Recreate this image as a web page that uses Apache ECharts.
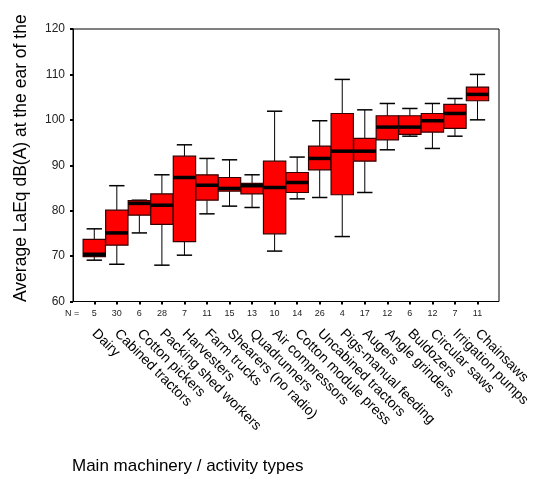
<!DOCTYPE html>
<html>
<head>
<meta charset="utf-8">
<script src="https://cdn.jsdelivr.net/npm/echarts@6/dist/echarts.min.js"></script>
<style>
html,body{margin:0;padding:0;background:#fff;}
#chart{width:533px;height:480px;}
</style>
</head>
<body>
<div id="chart"></div>
<script>
var categories = ['Dairy','Cabined tractors','Cotton pickers','Packing shed workers','Harvesters','Farm trucks','Shearers (no radio)','Quadrunners','Air compressors','Cotton module press','Uncabined tractors','Pigs-manual feeding','Augers','Angle grinders','Buldozers','Circular saws','Irrigation pumps','Chainsaws'];
var nCounts = [5,30,6,28,7,11,15,13,10,14,26,4,17,12,6,12,7,11];
var mins    = [69.1, 68.2, 75.1, 68.0, 70.2, 79.3, 81.0, 80.7, 71.1, 82.6, 82.9, 74.3, 84.0, 93.4, 96.4, 93.7, 96.4, 100.0];
var q1s     = [69.9, 72.4, 79.0, 77.0, 73.2, 82.3, 84.3, 83.7, 74.9, 84.0, 89.0, 83.5, 90.9, 95.6, 96.8, 97.3, 98.1, 104.2];
var medians = [70.4, 75.1, 81.6, 81.2, 87.3, 85.6, 84.9, 85.5, 85.1, 86.2, 91.5, 93.1, 93.1, 98.4, 98.4, 99.8, 101.4, 105.6];
var q3s     = [73.7, 80.1, 82.2, 83.7, 92.0, 87.9, 87.3, 86.0, 90.9, 88.4, 94.2, 101.4, 95.9, 100.9, 100.9, 101.4, 103.4, 107.2];
var maxs    = [76.0, 85.5, 82.3, 87.9, 94.5, 91.5, 91.2, 87.9, 101.9, 91.8, 99.8, 108.9, 102.2, 103.6, 102.5, 103.6, 104.7, 110.0];
var yTicks = [60, 70, 80, 90, 100, 110, 120];
var yTitle = 'Average LaEq dB(A) at the ear of the';
var xTitle = 'Main machinery / activity types';
var nLabel = 'N =';

var FONT = "'Liberation Sans', Arial, sans-serif";
var boxData = categories.map(function (c, i) {
  return [i, mins[i], q1s[i], medians[i], q3s[i], maxs[i]];
});

var chart = echarts.init(document.getElementById('chart'), null, {renderer: 'canvas'});
chart.setOption({
  animation: false,
  backgroundColor: '#fff',
  textStyle: {fontFamily: FONT},
  grid: [
    {left: 73, right: 34, top: 29, height: 272.5, show: true, borderColor: '#000', borderWidth: 1, backgroundColor: 'transparent'},
    {left: 83, right: 44, top: 29, height: 272.5}
  ],
  xAxis: [
    {gridIndex: 0, type: 'value', show: false, min: 0, max: 1},
    {gridIndex: 1, type: 'category', data: categories, boundaryGap: true, position: 'bottom',
      axisLine: {show: false},
      axisTick: {show: true, alignWithLabel: true, length: 3, lineStyle: {color: '#000', width: 2}},
      axisLabel: {interval: 0, fontSize: 9, color: '#222', margin: 8, fontFamily: FONT,
        formatter: function (v, i) { return String(nCounts[i]); }},
      splitLine: {show: false}
    },
    {gridIndex: 1, type: 'category', data: categories, boundaryGap: true, position: 'bottom',
      axisLine: {show: false}, axisTick: {show: false},
      axisLabel: {interval: 0, rotate: -45, fontSize: 14, color: '#000', margin: 30, fontFamily: FONT, hideOverlap: false},
      splitLine: {show: false}
    }
  ],
  yAxis: [
    {gridIndex: 0, type: 'value', min: yTicks[0], max: yTicks[yTicks.length - 1], interval: 10,
      axisLine: {show: true, lineStyle: {color: '#000', width: 1}},
      axisTick: {show: true, length: 3, lineStyle: {color: '#000', width: 2}},
      axisLabel: {fontSize: 12, color: '#222', margin: 8, fontFamily: FONT},
      splitLine: {show: false}
    },
    {gridIndex: 1, type: 'value', min: yTicks[0], max: yTicks[yTicks.length - 1], show: false, splitLine: {show: false}}
  ],
  graphic: [
    {type: 'text', x: 21, y: 302, rotation: Math.PI / 2,
      style: {text: yTitle, font: '17.5px ' + FONT, fill: '#000', textAlign: 'left', textVerticalAlign: 'middle'}},
    {type: 'text', x: 65, y: 314,
      style: {text: nLabel, font: '9px ' + FONT, fill: '#222', textAlign: 'left', textVerticalAlign: 'middle'}},
    {type: 'text', x: 72, y: 466,
      style: {text: xTitle, font: '17px ' + FONT, fill: '#000', textAlign: 'left', textVerticalAlign: 'middle'}}
  ],
  series: [{
    type: 'custom',
    xAxisIndex: 1,
    yAxisIndex: 1,
    data: boxData,
    encode: {x: 0, y: [1, 2, 3, 4, 5]},
    renderItem: function (params, api) {
      var i = api.value(0);
      var band = api.size([1, 0])[0];
      var pMed = api.coord([i, api.value(3)]);
      var cx = pMed[0];
      var yMin = api.coord([i, api.value(1)])[1];
      var yQ1 = api.coord([i, api.value(2)])[1];
      var yMed = pMed[1];
      var yQ3 = api.coord([i, api.value(4)])[1];
      var yMax = api.coord([i, api.value(5)])[1];
      var hw = band * 0.495, cw = band * 0.34;
      var ws = {stroke: '#000', lineWidth: 1};
      return {type: 'group', children: [
        {type: 'line', shape: {x1: cx, y1: yMax, x2: cx, y2: yQ3}, style: ws},
        {type: 'line', shape: {x1: cx, y1: yQ1, x2: cx, y2: yMin}, style: ws},
        {type: 'line', shape: {x1: cx - cw, y1: yMax, x2: cx + cw, y2: yMax}, style: {stroke: '#000', lineWidth: 1.5}},
        {type: 'line', shape: {x1: cx - cw, y1: yMin, x2: cx + cw, y2: yMin}, style: {stroke: '#000', lineWidth: 1.5}},
        {type: 'rect', shape: {x: cx - hw, y: yQ3, width: 2 * hw, height: yQ1 - yQ3}, style: {fill: '#ff0000', stroke: '#300', lineWidth: 1.2}},
        {type: 'line', shape: {x1: cx - hw, y1: yMed, x2: cx + hw, y2: yMed}, style: {stroke: '#000', lineWidth: 3.5}}
      ]};
    }
  }]
});
</script>
</body>
</html>
